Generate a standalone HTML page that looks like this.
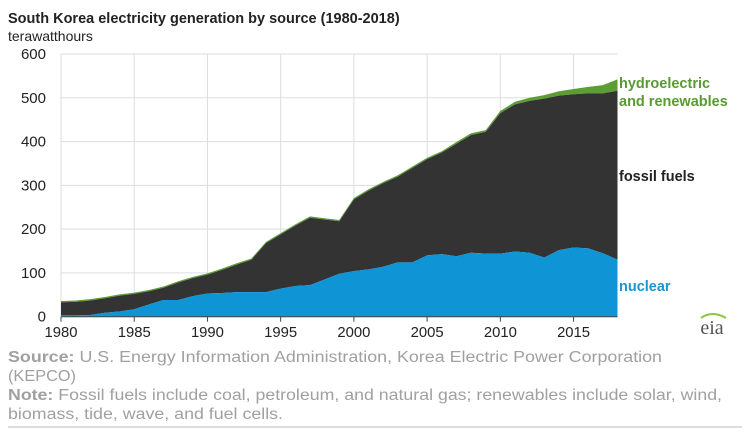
<!DOCTYPE html>
<html><head><meta charset="utf-8"><style>
html,body{margin:0;padding:0;background:#fff;}
svg{display:block;font-family:"Liberation Sans",sans-serif;}
</style></head><body>
<svg id="chart" width="750" height="438" viewBox="0 0 750 438">
<text x="8" y="23" font-size="14.5" font-weight="bold" fill="#222">South Korea electricity generation by source (1980-2018)</text>
<text x="8" y="41" font-size="14" fill="#222">terawatthours</text>
<g id="grid"></g>
<g id="areas"></g>
<g id="axes"></g>
<text x="619" y="88" font-size="14.5" font-weight="bold" fill="#5a9a32">hydroelectric</text>
<text x="619" y="106" font-size="14.5" font-weight="bold" fill="#5a9a32">and renewables</text>
<text x="619" y="181" font-size="14.5" font-weight="bold" fill="#222">fossil fuels</text>
<text x="619" y="291" font-size="14.5" font-weight="bold" fill="#1a96d4">nuclear</text>
<text x="712" y="334" font-size="20" font-family="Liberation Serif,serif" fill="#555" text-anchor="middle">eia</text>
<path d="M701 318 Q712 310 726 318" stroke="#8cc63f" stroke-width="2" fill="none"/>
<text x="8" y="362" font-size="15.5" fill="#a0a0a0" textLength="654" lengthAdjust="spacingAndGlyphs"><tspan font-weight="bold">Source:</tspan> U.S. Energy Information Administration, Korea Electric Power Corporation</text>
<text x="8" y="381" font-size="15.5" fill="#a0a0a0" textLength="68" lengthAdjust="spacingAndGlyphs">(KEPCO)</text>
<text x="8" y="400" font-size="15.5" fill="#a0a0a0" textLength="714" lengthAdjust="spacingAndGlyphs"><tspan font-weight="bold">Note:</tspan> Fossil fuels include coal, petroleum, and natural gas; renewables include solar, wind,</text>
<text x="8" y="419" font-size="15.5" fill="#a0a0a0" textLength="275" lengthAdjust="spacingAndGlyphs">biomass, tide, wave, and fuel cells.</text>
<line x1="8" y1="427" x2="742" y2="427" stroke="#bbb" stroke-width="1"/>
</svg>
<script>
const years = [1980,1981,1982,1983,1984,1985,1986,1987,1988,1989,1990,1991,1992,1993,1994,1995,1996,1997,1998,1999,2000,2001,2002,2003,2004,2005,2006,2007,2008,2009,2010,2011,2012,2013,2014,2015,2016,2017,2018];
const nuclear = [3,3,4,9,12,17,28,38,38,47,53,54,56,56,56,64,70,72,85,98,104,108,114,124,124,140,143,138,146,144,144,149,146,135,152,158,156,145,130];
const fossil = [30,31,33,33,36,35,30,28,40,41,43,53,63,74,112,124,138,154,137,120,164,180,191,196,216,220,232,257,269,278,321,336,347,363,353,350,354,365,386];
const renewables = [3,3,3,3,3,3,3,3,3,3,3,3,3,3,3,3,3,3,3,3,3,3,3,3,3,3,3,4,4,4,5,6,7,8,10,12,15,19,26];
const yTicks = [0,100,200,300,400,500,600];
const xTicks = [1980,1985,1990,1995,2000,2005,2010,2015];

const NS="http://www.w3.org/2000/svg";
const X0=61, X1=617.5, Y0=316.7, Y1=54;
const xs = y => X0 + (y-1980)/(2018-1980)*(X1-X0);
const ys = v => Y0 - v/600*(Y0-Y1);
function mk(tag, attrs, parent){const e=document.createElementNS(NS,tag);for(const k in attrs)e.setAttribute(k,attrs[k]);parent.appendChild(e);return e;}
const grid=document.getElementById('grid'), areas=document.getElementById('areas'), axes=document.getElementById('axes');
yTicks.forEach(t=>{
  const l=mk('line',{x1:X0,x2:X1,y1:ys(t),y2:ys(t),stroke:'#ddd','stroke-width':1},grid);
  
  
  const tx=mk('text',{x:46,y:ys(t)+5,'font-size':15,fill:'#222','text-anchor':'end'},axes);
  tx.textContent=t;
  
  
});
xTicks.forEach(t=>{
  const l=mk('line',{x1:xs(t),x2:xs(t),y1:Y1,y2:Y0,stroke:'#ddd','stroke-width':1},grid);
  
  
  const tk=mk('line',{x1:xs(t),x2:xs(t),y1:Y0,y2:Y0+5,stroke:'#444','stroke-width':1},axes);
  
  
  const tx=mk('text',{x:xs(t),y:337,'font-size':15,fill:'#222','text-anchor':'middle',textLength:33,lengthAdjust:'spacingAndGlyphs'},axes);
  tx.textContent=t;
  
  
});
function band(lo,hi,color,name){
  let d='M'+xs(years[0])+','+ys(hi[0]);
  for(let i=1;i<years.length;i++) d+='L'+xs(years[i])+','+ys(hi[i]);
  for(let i=years.length-1;i>=0;i--) d+='L'+xs(years[i])+','+ys(lo[i]);
  d+='Z';
  const p=mk('path',{d:d,fill:color},areas);
  
  
}
const zero=years.map(()=>0);
const top1=nuclear.slice();
const top2=nuclear.map((v,i)=>v+fossil[i]);
const top3=top2.map((v,i)=>v+renewables[i]);
band(top2,top3,'#5c9e34','renewables-area');
band(top1,top2,'#333333','fossil-area');
band(zero,top1,'#0f94d6','nuclear-area');
const ax=mk('line',{x1:X0,x2:X1,y1:Y0,y2:Y0,stroke:'#444','stroke-width':1},axes);


</script>
</body></html>
